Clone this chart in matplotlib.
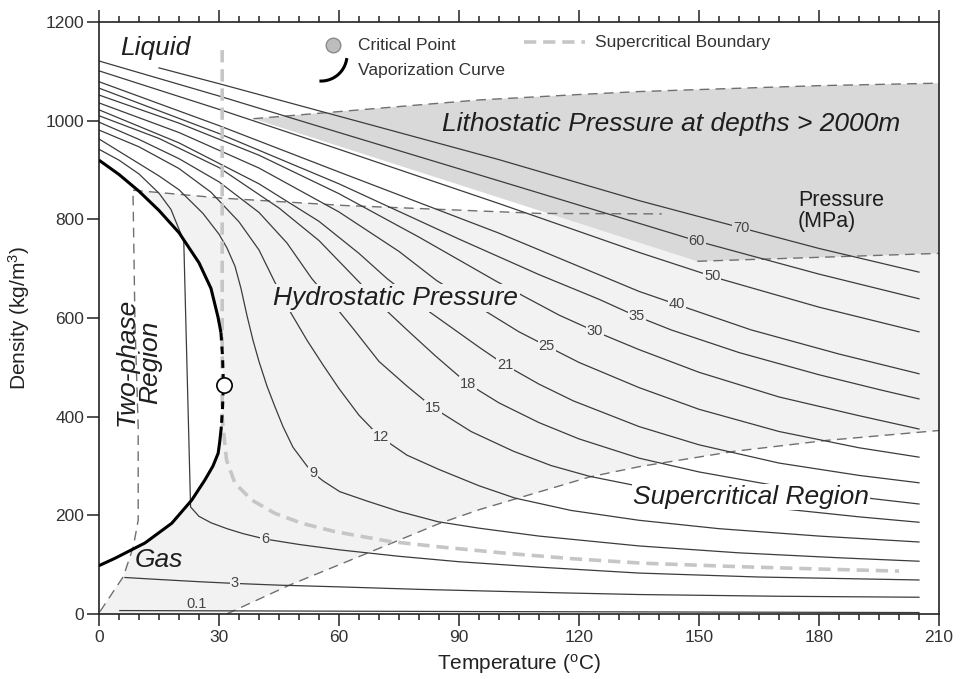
import numpy as np
import matplotlib.pyplot as plt

plt.rcParams['font.family'] = ['Liberation Sans', 'DejaVu Sans']

# CO2 isobars, density (kg/m3) against temperature (C)
PRESSURES = ["70", "60", "50", "40", "35", "30", "25", "21", "18", "15", "12", "9", "6", "3", "0.1"]

t_70 = [15, 30, 60, 100, 135, 160, 180, 205]
d_70 = [1107, 1075, 1009, 921, 838, 784, 741, 693]
t_60 = [0, 30, 60, 100, 135, 150, 180, 205]
d_60 = [1121, 1050, 976, 878, 792, 755, 689, 639]
t_50 = [0, 30, 60, 100, 135, 155, 180, 205]
d_50 = [1101, 1023, 942, 832, 733, 680, 622, 572]
t_40 = [0, 30, 60, 100, 135, 145, 163, 185, 205]
d_40 = [1079, 990, 896, 772, 654, 626, 576, 527, 487]
t_35 = [0, 30, 60, 90, 110, 125, 134, 143, 160, 180, 195, 205]
d_35 = [1066, 974, 872, 760, 688, 638, 605, 576, 530, 485, 455, 436]
t_30 = [0, 20, 40, 60, 80, 99, 106, 115, 124, 135, 150, 170, 190, 205]
d_30 = [1052, 995, 930, 852, 764, 676, 645, 606, 573, 536, 490, 440, 402, 375]
t_25 = [0, 20, 40, 60, 75, 84.4, 97, 105, 112, 120, 135, 150, 170, 190, 205]
d_25 = [1036, 976, 904, 815, 735, 676, 612, 572, 543, 510, 459, 415, 370, 337, 318]
t_21 = [0, 20, 40, 55, 65, 72, 82.7, 88.6, 95, 101.5, 110, 118.6, 135, 150, 170, 190, 205]
d_21 = [1022, 955, 872, 796, 731, 680, 612, 578, 541, 505, 466, 432, 380, 343, 306, 281, 266]
t_18 = [0, 15, 30, 45, 55, 63, 72, 77, 84, 92, 100, 110, 120, 135, 150, 170, 190, 205]
d_18 = [1010, 964, 905, 823, 757, 690, 614, 576, 524, 468, 428, 388, 355, 316, 288, 259, 237, 223]
t_15 = [0, 10, 20, 30, 40, 47, 53.2, 60.2, 63.6, 70, 77, 83.6, 93, 103.6, 113, 122.7, 135, 150, 170, 190, 205]
d_15 = [997, 962, 923, 876, 814, 752, 680, 612, 578, 512, 462, 418, 370, 330, 301, 279, 259, 237, 214, 197, 186]
t_12 = [0, 10, 20, 28, 35, 40, 44, 48, 52, 56, 60, 65, 70, 77, 85, 95, 104, 118, 135, 155, 180, 205]
d_12 = [981, 947, 903, 855, 795, 738, 672, 610, 555, 505, 457, 403, 361, 322, 293, 260, 235, 210, 190, 173, 158, 146]
t_9 = [0, 15, 20, 26, 30, 32, 34, 35.5, 37, 38.5, 40, 42, 44, 46, 48.5, 52, 54, 56, 60.2, 67, 75, 84.8, 95, 110,
       135, 160, 185, 205]
d_9 = [963, 888, 860, 812, 770, 742, 705, 660, 605, 555, 512, 462, 420, 380, 338, 300, 283, 270, 248, 229, 208,
       187, 174, 158, 138, 124, 114, 107]
t_6 = [0, 5, 10, 15, 18, 21.2, 22.9, 25, 28, 32, 36, 41.5, 50, 60.2, 75, 90, 110, 135, 165, 205]
d_6 = [942, 920, 892, 853, 820, 756, 217, 198, 185, 173, 163, 152, 141, 130, 117, 106, 95, 83, 75, 69]
t_3 = [6.5, 15, 25, 34, 45, 60.2, 80, 95, 115, 135, 170, 205]
d_3 = [74, 70, 65.5, 62, 58.5, 55, 50, 47, 43, 39.5, 36, 34]
t_01 = [5.2, 95, 205]
d_01 = [7, 5, 3]

# temperature where each isobar carries its pressure label
LABEL_T = [160.6, 149.4, 153.3, 144.4, 134.4, 124, 111.9, 101.5, 92.2, 83.6, 70.4, 53.6, 41.5, 34, 24.4]

# vaporization curve: liquid branch, near-critical part, vapour branch
vap_up_t = [0, 5, 10, 15, 20, 25, 28, 29.75, 30.5]
vap_up_d = [920, 891, 857, 818, 773, 712, 660, 602, 570]
vap_cr_t = [30.5, 30.9, 31.1, 30.9, 30.6]
vap_cr_d = [570, 520, 467, 420, 380]
vap_lo_t = [30.6, 30.2, 29.8, 28.5, 26.5, 23.2, 18.2, 11.5, 4, 0]
vap_lo_d = [380, 350, 326, 300, 272, 231, 184, 144, 113, 98]
crit_t, crit_d = 31.3, 464

# supercritical boundary
sc_t = [30.8, 30.8, 31.1, 31.9, 34, 38.2, 44, 50.7, 59, 72.75, 85.25, 102, 118.6, 136, 160, 181, 200]
sc_d = [1143, 400, 373, 312, 265, 231, 204, 184, 167, 147, 136, 123, 112, 103, 96, 91, 87]

# hydrostatic region outline (two-phase edge, top edge, lower diagonal)
tp_t = [0.25, 6.1, 8.6, 9.8, 9.8, 9.0, 8.5]
tp_d = [5, 76, 137, 190, 380, 590, 859]
hz_t = [8.5, 30.7, 61.5, 110.25, 140.7]
hz_d = [859, 843, 828, 812, 811]
dg_t = [31.9, 47.75, 67, 85.25, 95.25, 122.75, 135.25, 159, 182, 210]
dg_d = [0, 59, 123, 184, 212, 278, 299, 330, 352, 372]

# lithostatic wedge
wt_t = [38.6, 55, 80, 95, 120, 135, 153.5, 180, 210]
wt_d = [1004, 1015, 1032, 1042, 1053, 1059, 1064, 1071, 1076]
wl_t = [149.6, 180, 210]
wl_d = [715, 723, 731]

LIGHT = '#f2f2f2'
DARK = '#d9d9d9'
LINE = '#3c3c3c'
TXT = '#1e1e1e'

fig = plt.figure(figsize=(9.6, 6.79), dpi=100)
ax = fig.add_axes([0.1031, 0.0957, 0.875, 0.8719])
ax.set_xlim(0, 210)
ax.set_ylim(0, 1200)

# background regions
poly_t = [0] + tp_t + hz_t[1:] + [wl_t[0], 210, 210] + dg_t[::-1] + [0]
poly_d = [0] + tp_d + hz_d[1:] + [wl_d[0], wl_d[-1], dg_d[-1]] + dg_d[::-1] + [0]
ax.fill(poly_t, poly_d, color=LIGHT, lw=0, zorder=0.5)
wedge_t = wt_t + wl_t[::-1]
wedge_d = wt_d + wl_d[::-1]
ax.fill(wedge_t, wedge_d, color=DARK, lw=0, zorder=0.6)
ax.fill(vap_up_t + vap_cr_t + vap_lo_t, vap_up_d + vap_cr_d + vap_lo_d, color='white', lw=0, zorder=0.7)

# dashed outlines
dash_kw = dict(color='#707070', lw=1.0, dashes=(7, 4.5), zorder=1.5)
ax.plot(tp_t, tp_d, **dash_kw)
ax.plot(hz_t, hz_d, **dash_kw)
ax.plot(dg_t, dg_d, **dash_kw)
ax.plot(wt_t, wt_d, **dash_kw)
ax.plot(wl_t, wl_d, **dash_kw)

# isobars
curves = [(t_70, d_70), (t_60, d_60), (t_50, d_50), (t_40, d_40), (t_35, d_35), (t_30, d_30),
          (t_25, d_25), (t_21, d_21), (t_18, d_18), (t_15, d_15), (t_12, d_12), (t_9, d_9),
          (t_6, d_6), (t_3, d_3), (t_01, d_01)]
for name, (t, d), lt in zip(PRESSURES, curves, LABEL_T):
    ax.plot(t, d, color=LINE, lw=0.9, zorder=2)
    if name == "0.1":
        ax.text(lt, 20, name, fontsize=10.5, color='#444444', ha='center', va='center', zorder=4)
        continue
    bg = DARK if name in ("70", "60") else LIGHT
    ax.text(lt, np.interp(lt, t, d), name, fontsize=10.5, color='#444444', ha='center', va='center',
            zorder=4, bbox=dict(facecolor=bg, edgecolor='none', pad=0.6))

# supercritical boundary and vaporization curve
ax.plot(sc_t, sc_d, color='#c6c6c6', lw=2.6, dashes=(3.4, 1.9), zorder=2.5)
ax.plot(vap_up_t, vap_up_d, color='black', lw=2.2, solid_capstyle='butt', zorder=3)
ax.plot(vap_lo_t, vap_lo_d, color='black', lw=2.2, solid_capstyle='butt', zorder=3)
ax.plot(vap_cr_t, vap_cr_d, color='black', lw=2.2, dashes=(2.5, 2), zorder=3)
ax.plot([crit_t], [crit_d], 'o', ms=11, mfc='white', mec='black', mew=1.2, zorder=5)

# region labels
big = dict(fontsize=19, style='italic', color=TXT, va='center', ha='left')
ax.text(5.25, 1147, 'Liquid', **big)
ax.text(85.75, 993, 'Lithostatic Pressure at depths > 2000m', **big)
ax.text(43.5, 641, 'Hydrostatic Pressure', zorder=4,
        bbox=dict(facecolor=LIGHT, edgecolor='none', pad=1.5), **big)
ax.text(133.5, 237, 'Supercritical Region', zorder=4,
        bbox=dict(facecolor='white', edgecolor='none', pad=1.0), **big)
ax.text(9.0, 109, 'Gas', zorder=4, **big)
ax.text(9.9, 511, 'Two-phase\nRegion', fontsize=19, style='italic', color=TXT, rotation=90,
        ha='center', va='center', multialignment='center', linespacing=0.95, zorder=4)
ax.text(174.75, 817, 'Pressure\n(MPa)', fontsize=15.5, color=TXT, ha='left', va='center',
        linespacing=1.0)

# legend drawn in place
leg_kw = dict(fontsize=12.5, color='#333333', ha='left', va='center')
ax.plot([58.5], [1154], 'o', ms=10.5, mfc='#bdbdbd', mec='#8a8a8a', mew=1.0, zorder=5)
ax.text(64.75, 1153, 'Critical Point', **leg_kw)
ang = np.radians(np.linspace(-90, -10, 30))
ax.plot(55.5 + 6.5 * np.cos(ang), 1133 + 52.7 * np.sin(ang), color='black', lw=2.2, zorder=5)
ax.text(64.75, 1101, 'Vaporization Curve', **leg_kw)
ax.plot([106.25, 121.5], [1159, 1159], color='#c6c6c6', lw=2.6, dashes=(3.4, 1.9))
ax.text(124, 1159, 'Supercritical Boundary', **leg_kw)

# axes styling
ax.set_xticks(range(0, 211, 30))
ax.set_xticks(range(0, 211, 5), minor=True)
ax.set_yticks(range(0, 1201, 200))
ax.tick_params(axis='x', which='both', direction='out', top=True, bottom=True, width=1.1,
               colors='#222222', labelcolor='#333333', labelsize=12.5, pad=3)
ax.tick_params(axis='x', which='major', length=8.5)
ax.tick_params(axis='x', which='minor', length=4.5)
ax.tick_params(axis='y', which='major', direction='out', left=True, right=False, length=8.5, width=1.1,
               colors='#222222', labelcolor='#333333', labelsize=12.5, pad=2)
for s in ax.spines.values():
    s.set_linewidth(1.2)
    s.set_color('#222222')
ax.set_xlabel(r'Temperature ($\mathregular{^o}$C)', fontsize=15, color='#222222', labelpad=5)
ax.set_ylabel(r'Density (kg/m$\mathregular{^3}$)', fontsize=15, color='#222222', labelpad=10)

fig.savefig('out.png', dpi=100)
